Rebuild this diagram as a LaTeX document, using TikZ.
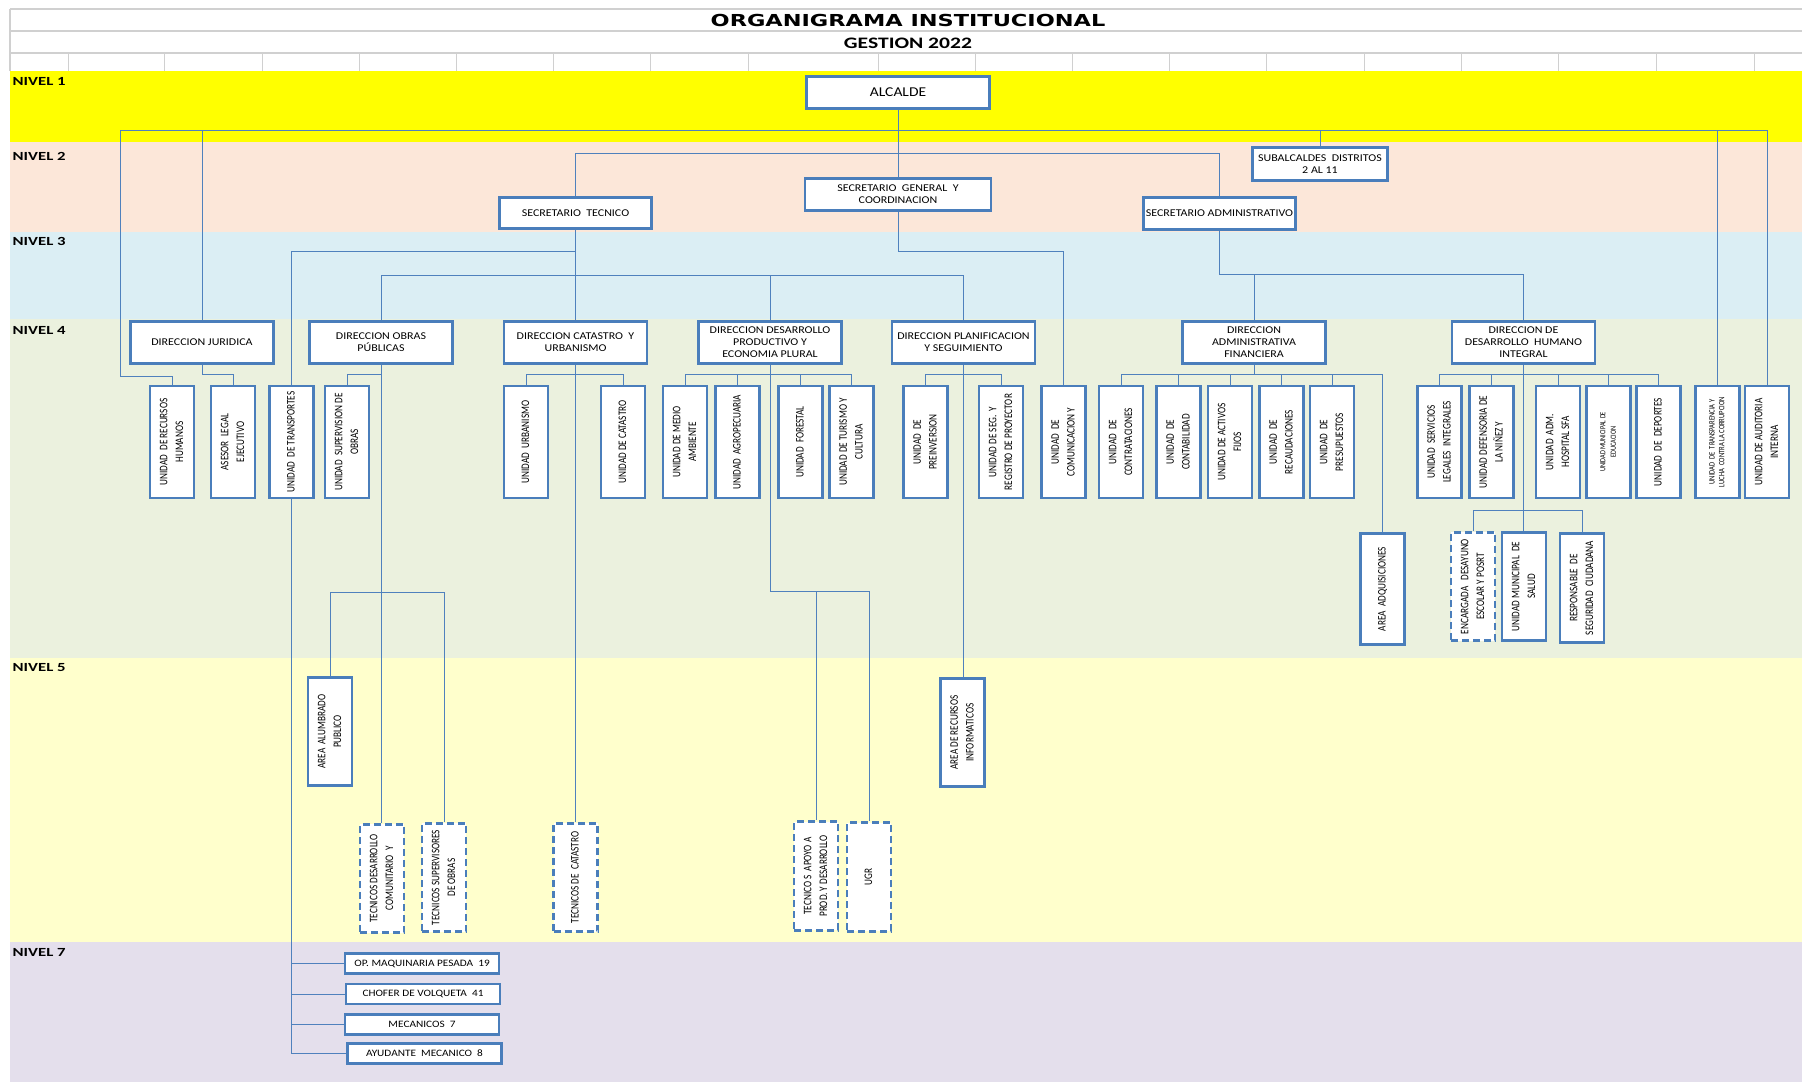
\documentclass[tikz,border=0pt]{standalone}
\usepackage{fontspec}
\usepackage{graphicx}
\setmainfont{Carlito}
\newfontfamily\widefont{Carlito}[FakeStretch=1.15]
\newfontfamily\levelfont{Carlito}[FakeStretch=1.35]
\newfontfamily\titlefont{DejaVu Sans}[FakeStretch=1.36]

\definecolor{boxblue}{RGB}{74,126,187}
\definecolor{lineblue}{RGB}{79,129,189}
\definecolor{lvlone}{RGB}{255,255,0}
\definecolor{lvltwo}{RGB}{252,231,217}
\definecolor{lvlthree}{RGB}{219,238,244}
\definecolor{lvlfour}{RGB}{235,241,222}
\definecolor{lvlfive}{RGB}{255,255,204}
\definecolor{lvlseven}{RGB}{228,223,236}
\definecolor{gridgray}{RGB}{208,208,208}

\newcommand{\vlbl}[1]{\rotatebox{90}{\scalebox{1}[1.25]{\begin{tabular}{@{}c@{}}#1\end{tabular}}}}

\tikzset{
    hbox/.style={draw=boxblue, line width=2.6pt, fill=white, inner sep=0pt, align=center,
        minimum width=143pt, minimum height=42pt, font=\widefont\fontsize{10.4}{12}\selectfont},
    vbox/.style={draw=boxblue, line width=2.6pt, fill=white, inner sep=0pt,
        minimum width=44pt, minimum height=112pt, font=\fontsize{9.2}{12.6}\selectfont},
    dbox/.style={vbox, dash pattern=on 7pt off 4pt, minimum height=108.5pt},
    conn/.style={draw=lineblue, line width=0.95pt},
    lvl/.style={anchor=west, inner sep=0pt, font=\levelfont\bfseries\fontsize{12.4}{14}\selectfont}
}

\begin{document}
\begin{tikzpicture}[x=1pt, y=-1pt]
    \useasboundingbox (0,0) rectangle (1802,1082);
    \fill[white] (0,0) rectangle (1802,1082);

    % level bands
    \foreach \c/\ya/\yb in {lvlone/71/142, lvltwo/142/232, lvlthree/232/319,
                            lvlfour/319/658, lvlfive/658/942, lvlseven/942/1082}
        \fill[\c] (10,\ya) rectangle (1802,\yb);

    % header grid
    \draw[gridgray, line width=1.2pt] (10,9) -- (1802,9) (10,31) -- (1802,31)
        (10,53) -- (1802,53) (10,9) -- (10,71);
    \foreach \x in {68,164,262,359,456,553,650,748,878,975,1072,1169,1266,1364,1461,1558,1656,1754}
        \draw[gridgray, line width=1pt] (\x,53) -- (\x,71);

    % titles
    \node[font=\titlefont\bfseries\fontsize{16.5}{18}\selectfont] (title) at (908,20) {ORGANIGRAMA INSTITUCIONAL};
    \node[font=\levelfont\bfseries\fontsize{16}{18}\selectfont] (gestion) at (908,43.8) {GESTION 2022};

    % level labels
    \foreach \t/\y in {1/81.5, 2/156, 3/241, 4/330, 5/667.5, 7/952}
        \node[lvl] (nivel\t) at (12.5,\y) {NIVEL \t};

    % level 1 and 2
    \node[hbox, minimum width=183pt, minimum height=32pt, font=\widefont\fontsize{13.5}{15}\selectfont] (alc) at (898,92.5) {ALCALDE};
    \node[hbox, minimum width=186pt, minimum height=32pt] (sgen) at (898,194.5) {SECRETARIO\ \ GENERAL\ \ Y\\COORDINACION};
    \node[hbox, minimum width=152pt, minimum height=31pt] (stec) at (575.5,213) {SECRETARIO\ \ TECNICO};
    \node[hbox, minimum width=152pt, minimum height=32pt] (sadm) at (1219.5,213.5) {SECRETARIO ADMINISTRATIVO};
    \node[hbox, minimum width=135pt, minimum height=33pt] (subalc) at (1320,164) {SUBALCALDES\ \ DISTRITOS\\2 AL 11};

    % directions
    \foreach \n/\x/\t in {djur/202/{DIRECCION JURIDICA}, dobr/381/{DIRECCION OBRAS\\PÚBLICAS},
            dcat/575.5/{DIRECCION CATASTRO\ \ Y\\URBANISMO}, ddes/770/{DIRECCION DESARROLLO\\PRODUCTIVO Y\\ECONOMIA PLURAL},
            dpla/963.5/{DIRECCION PLANIFICACION\\Y SEGUIMIENTO}, dadm/1254/{DIRECCION\\ADMINISTRATIVA\\FINANCIERA},
            ddhi/1523.5/{DIRECCION DE\\DESARROLLO\ \ HUMANO\\INTEGRAL}}
        \node[hbox] (\n) at (\x,342.5) {\t};

    % units
    \foreach \n/\x/\t in {urrhh/172/{UNIDAD\ \ DE RECURSOS\\HUMANOS}, uleg/233/{ASESOR\ \ LEGAL\\EJECUTIVO},
            utra/291.5/{UNIDAD\ \ DE TRANSPORTES}, usup/347/{UNIDAD\ \ SUPERVISION DE\\OBRAS},
            uurb/526/{UNIDAD\ \ URBANISMO}, ucat/623/{UNIDAD DE CATASTRO},
            umed/685/{UNIDAD DE MEDIO\\AMBIENTE}, uagr/737.5/{UNIDAD\ \ AGROPECUARIA},
            ufor/800.5/{UNIDAD\ \ FORESTAL}, utur/851.5/{UNIDAD DE TURISMO Y\\CULTURA},
            upre/925.5/{UNIDAD\ \ DE\\PREINVERSION}, useg/1001/{UNIDAD DE SEG.\ \ Y\\REGISTRO DE PROYECTOR},
            ucom/1063.5/{UNIDAD\ \ DE\\COMUNICACION Y}, ucon/1121/{UNIDAD\ \ DE\\CONTRATACIONES},
            ucnt/1178.5/{UNIDAD\ \ DE\\CONTABILIDAD}, uact/1230/{UNIDAD DE ACTIVOS\\FIJOS},
            urec/1281.5/{UNIDAD\ \ DE\\RECAUDACIONES}, upres/1332/{UNIDAD\ \ DE\\PRESUPUESTOS},
            usle/1439.5/{UNIDAD\ \ SERVICIOS\\LEGALES\ \ INTEGRALES}, udef/1491.5/{UNIDAD DEFENSORIA DE\\LA NIÑEZ Y},
            uhos/1558/{UNIDAD\ \ ADM.\\HOSPITAL SFA}, udep/1658.5/{UNIDAD\ \ DE\ \ DEPORTES},
            uaud/1767/{UNIDAD DE AUDITORIA\\INTERNA}}
        \node[vbox] (\n) at (\x,442) {\vlbl{\t}};
    \node[vbox, font=\fontsize{6.3}{8.5}\selectfont] (uedu) at (1608.5,442) {\vlbl{UNIDAD MUNICIPAL DE\\EDUCACION}};
    \node[vbox, font=\fontsize{6.6}{7.8}\selectfont] (utrp) at (1717.5,442) {\vlbl{UNIDAD\ \ DE\ \ TRANSPARENCIA Y\\LUCHA\ \ CONTRA LA CORRUPCION}};

    % lower units
    \node[vbox, minimum height=111pt] (aadq) at (1382.5,589) {\vlbl{AREA\ \ ADQUISICIONES}};
    \node[dbox] (enc) at (1473,586.5) {\vlbl{ENCARGADA\ \ \ DESAYUNO\\ESCOLAR Y POSRT}};
    \node[vbox, minimum height=108.5pt] (usal) at (1524,586.5) {\vlbl{UNIDAD MUNICIPAL\ \ DE\\SALUD}};
    \node[vbox, minimum height=109pt] (rseg) at (1582,588) {\vlbl{RESPONSABLE\ \ DE\\SEGURIDAD\ \ CIUDADANA}};
    \node[vbox, minimum height=108.5pt] (alum) at (330,731.5) {\vlbl{AREA\ \ ALUMBRADO\\PUBLICO}};
    \node[vbox, minimum height=108.5pt] (arin) at (962.5,732.5) {\vlbl{AREA DE RECURSOS\\INFORMATICOS}};
    \node[dbox] (tdes) at (382,878.5) {\vlbl{TECNICOS DESARROLLO\\COMUNITARIO\ \ Y}};
    \node[dbox] (tsup) at (444,877.5) {\vlbl{TECNICOS SUPERVISORES\\DE OBRAS}};
    \node[dbox] (tcat) at (575.5,877.5) {\vlbl{TECNICOS DE\ \ CATASTRO}};
    \node[dbox] (tapo) at (816,876) {\vlbl{TECNICO S\ \ APOYO A\\PROD. Y DESARROLLO}};
    \node[dbox] (ugr) at (869,877) {\vlbl{UGR}};

    % level 7 staff
    \foreach \n/\x/\y/\t in {nop/422/963.5/{OP. MAQUINARIA PESADA\ \ 19}, ncho/423/994/{CHOFER DE VOLQUETA\ \ 41},
            nmec/422/1024.5/{MECANICOS\ \ 7}, nayu/424.5/1053.5/{AYUDANTE\ \ MECANICO\ \ 8}}
        \node[hbox, minimum width=154pt, minimum height=20pt, font=\widefont\fontsize{9.8}{10}\selectfont] (\n) at (\x,\y) {\t};

    % connectors from alcalde
    \coordinate (b1) at (898,130);
    \coordinate (rhc) at (120,376);
    \draw[conn] (alc.south) -- (sgen.north);
    \draw[conn] (b1) -| (rhc) -| (urrhh.north);
    \foreach \u in {djur,subalc,utrp,uaud}
        \draw[conn] (b1) -| (\u.north);

    % connectors of the secretaries
    \draw[conn] (stec.north) -- ++(0,-43) -| (sadm.north);
    \draw[conn] (stec.south) -- (dcat.north);
    \draw[conn] (stec.south) -- ++(0,22) -| (utra.north);
    \path (stec.south) ++(0,46) coordinate (b3);
    \foreach \d in {dobr,ddes,dpla}
        \draw[conn] (b3) -| (\d.north);
    \draw[conn] (sgen.south) -- ++(0,40) -| (ucom.north);
    \path (sadm.south) ++(0,44) coordinate (b4);
    \draw[conn] (sadm.south) -- (b4);
    \foreach \d in {dadm,ddhi}
        \draw[conn] (b4) -| (\d.north);

    % unit trees
    \foreach \d/\ulist in {djur/{uleg}, dobr/{usup}, dcat/{uurb,ucat}, ddes/{umed,uagr,ufor,utur},
            dpla/{upre,useg}, dadm/{ucon,ucnt,uact,urec,upres,aadq}, ddhi/{usle,udef,uhos,uedu,udep}}
        \foreach \u in \ulist
            \draw[conn] (\d.south) -- ++(0,10) -| (\u.north);

    % long branches
    \draw[conn] (dobr.south) -- (dobr.south |- tdes.north);
    \path (dobr.south) ++(0,228) coordinate (b5);
    \draw[conn] (b5) -| (alum.north);
    \draw[conn] (b5) -| (tsup.north);
    \draw[conn] (dcat.south) -- (dcat.south |- tcat.north);
    \path (ddes.south) ++(0,227) coordinate (b6);
    \draw[conn] (ddes.south) -- (b6) -| (tapo.north);
    \draw[conn] (b6) -| (ugr.north);
    \draw[conn] (dpla.south) -- (dpla.south |- arin.north);
    \path (ddhi.south) ++(0,146) coordinate (b7);
    \draw[conn] (ddhi.south) -- (ddhi.south |- usal.north);
    \draw[conn] (b7) -| (enc.north);
    \draw[conn] (b7) -| (rseg.north);

    % transport staff
    \draw[conn] (utra.south) -- (utra.south |- nayu.west);
    \foreach \n in {nop,ncho,nmec,nayu}
        \draw[conn] (\n.west) -- (\n.west -| utra.south);
\end{tikzpicture}
\end{document}
